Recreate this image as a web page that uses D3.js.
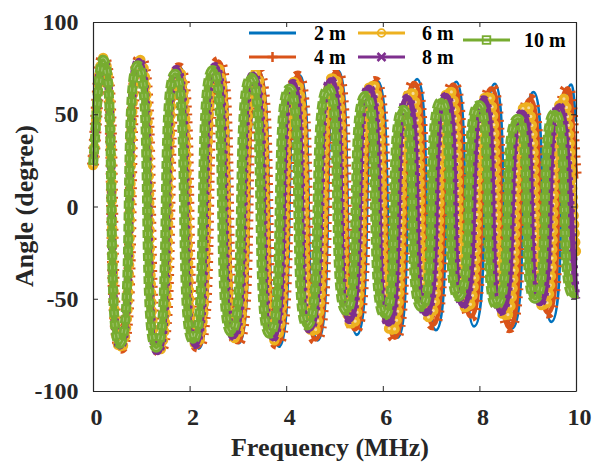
<!DOCTYPE html>
<html><head><meta charset="utf-8">
<script src="https://cdn.jsdelivr.net/npm/d3@7"></script>
<style>html,body{margin:0;padding:0;background:#fff}svg{display:block}</style>
</head><body><svg id="chart" width="597" height="462"></svg>
<script>
// ---- data (start, extrema, end) ----
const freqTicks = [0, 2, 4, 6, 8, 10];
const angleTicks = [-100, -50, 0, 50, 100];
const seriesNames = ["2 m", "4 m", "6 m", "8 m", "10 m"];

const freq2m  = [0, 0.21, 0.58, 0.99, 1.39, 1.80, 2.19, 2.63, 3.02, 3.44, 3.85, 4.28, 4.65, 5.08, 5.46, 5.89, 6.31, 6.71, 7.10, 7.52, 7.89, 8.32, 8.68, 9.12, 9.49, 9.90, 10];
const angle2m = [22.5, 81, -77, 80, -79, 75.5, -77, 78, -74, 73, -76, 71, -72.5, 73.5, -69.5, 68, -71, 69, -67, 67.5, -65, 66.5, -66, 62, -62.5, 66, 46];

const freq4m  = [0, 0.21, 0.58, 0.98, 1.38, 1.78, 2.17, 2.60, 2.99, 3.41, 3.81, 4.24, 4.61, 5.04, 5.42, 5.84, 6.25, 6.65, 7.04, 7.46, 7.82, 8.25, 8.62, 9.05, 9.42, 9.83, 10];
const angle4m = [22.5, 80.5, -76.5, 80, -78.5, 75, -76, 78.5, -73.5, 73, -74.5, 70.5, -72, 73, -66.5, 67.5, -71, 67, -64, 66, -59.5, 64, -65.5, 58, -57.5, 64, 15];

const freq6m  = [0, 0.21, 0.57, 0.97, 1.36, 1.76, 2.14, 2.56, 2.95, 3.36, 3.76, 4.19, 4.55, 4.98, 5.36, 5.78, 6.19, 6.58, 6.96, 7.38, 7.74, 8.17, 8.53, 8.97, 9.33, 9.74, 10];
const angle6m = [22.5, 80.5, -77, 79.5, -78.5, 74.5, -75, 76, -71.5, 72.5, -72.5, 68, -68.5, 70.5, -64.5, 66.5, -68, 62.5, -60, 63, -55.5, 60.5, -60, 55, -54.5, 58.5, -25];

const freq8m  = [0, 0.21, 0.56, 0.95, 1.34, 1.73, 2.11, 2.53, 2.91, 3.32, 3.72, 4.14, 4.48, 4.93, 5.31, 5.71, 6.12, 6.51, 6.89, 7.31, 7.66, 8.09, 8.45, 8.89, 9.25, 9.66, 10];
const angle8m = [22.5, 80, -76, 79, -79, 74.5, -75, 76, -70.5, 71.5, -71.5, 67, -66.5, 68.5, -61.5, 64.5, -63.5, 59, -58, 60, -53.5, 58, -57, 51, -52.5, 54.5, -50];

const freq10m  = [0, 0.21, 0.55, 0.93, 1.31, 1.70, 2.07, 2.48, 2.86, 3.27, 3.66, 4.07, 4.43, 4.87, 5.24, 5.64, 6.04, 6.42, 6.80, 7.21, 7.56, 7.99, 8.35, 8.80, 9.15, 9.56, 9.95, 10];
const angle10m = [22.5, 79.5, -74.5, 76.5, -76.5, 72, -72.5, 74, -68, 70, -69, 64, -64.5, 64, -56.5, 60, -59, 52.5, -54.5, 57, -49, 55, -53.5, 47.5, -50, 50.5, -48, -47];

const seriesFreq  = [freq2m, freq4m, freq6m, freq8m, freq10m];
const seriesAngle = [angle2m, angle4m, angle6m, angle8m, angle10m];

// ---- layout & style ----
const colors = ["#0072BD", "#D95319", "#EDB120", "#7E2F8E", "#77AC30"];
const axisColor = "#262626";
const fontFam = "'Liberation Serif','Times New Roman',serif";

const svg = d3.select("#chart");
const x = d3.scaleLinear().domain([0, 10]).range([93, 576]);
const y = d3.scaleLinear().domain([-100, 100]).range([391, 22]);

// curve through the read extrema: flat tangents at every turning point
const FLAT = 0.78;
function curveFlatTop(context) {
  let pts;
  return {
    areaStart() {}, areaEnd() {},
    lineStart() { pts = []; },
    point(px, py) { pts.push([+px, +py]); },
    lineEnd() {
      const n = pts.length;
      if (!n) return;
      context.moveTo(pts[0][0], pts[0][1]);
      for (let i = 1; i < n; i++) {
        const [x0, y0] = pts[i - 1], [x1, y1] = pts[i], dx = x1 - x0;
        let c1x = x0 + FLAT * dx, c1y = y0, c2x = x1 - FLAT * dx, c2y = y1;
        if (i === 1) { c1x = x0 + dx / 3; c1y = y0 + (y1 - y0) / 3; c2x = x1 - 0.5 * dx; }
        if (i === n - 1) { c2x = x1 - dx / 3; c2y = y1 - (y1 - y0) / 3; c1x = x0 + 0.5 * dx; }
        context.bezierCurveTo(c1x, c1y, c2x, c2y, x1, y1);
      }
    }
  };
}

const lineGen = d3.line().x(d => x(d[0])).y(d => y(d[1])).curve(curveFlatTop);

const layerStyles = [
  [{w: 2.8}],
  [{w: 5}, {w: 12, dash: "2 6"}],
  [{w: 6}, {w: 10.5, dash: "0 9", cap: "round"}, {w: 3.2, dash: "0 9", cap: "round", color: "#f5dc9c"}],
  [{w: 6}, {w: 8.5, dash: "3 5"}],
  [{w: 7}, {w: 10, dash: "8 3.5"}, {w: 4.5, dash: "4 7.5", offset: -2, color: "#a9c97f"}, {w: 3}]
];

const gData = svg.append("g");
seriesNames.forEach((name, i) => {
  const pts = seriesFreq[i].map((f, j) => [f, seriesAngle[i][j]]);
  const d = lineGen(pts);
  layerStyles[i].forEach(st => {
    gData.append("path")
      .attr("d", d)
      .attr("fill", "none")
      .attr("stroke", st.color || colors[i])
      .attr("stroke-width", st.w)
      .attr("stroke-linecap", st.cap || "butt")
      .attr("stroke-linejoin", "round")
      .attr("stroke-dasharray", st.dash || null)
      .attr("stroke-dashoffset", st.offset || 0);
  });
});

// ---- legend (under the axes box) ----
const leg = svg.append("g");
leg.append("rect").attr("x", 243).attr("y", 23).attr("width", 332).attr("height", 47).attr("fill", "#fff");
const legendPos = [
  {lx: 249, ly: 33, tx: 314},
  {lx: 249, ly: 57, tx: 314},
  {lx: 358, ly: 33, tx: 422},
  {lx: 358, ly: 57, tx: 422},
  {lx: 463, ly: 40, tx: 524}
];
seriesNames.forEach((name, i) => {
  const p = legendPos[i];
  const c = colors[i];
  leg.append("line").attr("x1", p.lx).attr("x2", p.lx + 47).attr("y1", p.ly).attr("y2", p.ly)
    .attr("stroke", c).attr("stroke-width", 3);
  const mx = p.lx + 23.5, my = p.ly;
  if (i === 1) {
    leg.append("path").attr("d", `M${mx-5},${my}H${mx+5}M${mx},${my-5}V${my+5}`).attr("stroke", c).attr("stroke-width", 2.5);
  } else if (i === 2) {
    leg.append("circle").attr("cx", mx).attr("cy", my).attr("r", 3.8).attr("fill", "none").attr("stroke", c).attr("stroke-width", 1.8);
  } else if (i === 3) {
    leg.append("path").attr("d", `M${mx-4},${my-4}L${mx+4},${my+4}M${mx-4},${my+4}L${mx+4},${my-4}`).attr("stroke", c).attr("stroke-width", 2.5);
  } else if (i === 4) {
    leg.append("rect").attr("x", mx - 3.8).attr("y", my - 3.8).attr("width", 7.6).attr("height", 7.6).attr("fill", "none").attr("stroke", c).attr("stroke-width", 1.8);
  }
  leg.append("text").attr("x", p.tx).attr("y", p.ly).attr("dy", "0.35em")
    .attr("font-family", fontFam).attr("font-weight", "bold").attr("font-size", 20)
    .attr("fill", "#000").text(name);
});

// ---- axes ----
function styleAxis(g) {
  g.select(".domain").attr("stroke", axisColor).attr("stroke-width", 1.2);
  g.selectAll(".tick line").attr("stroke", axisColor).attr("stroke-width", 1);
  g.selectAll("text").attr("font-family", fontFam).attr("font-weight", "bold").attr("font-size", 24).attr("fill", axisColor);
}
const plainFmt = d => String(d);
const gx = svg.append("g").attr("transform", "translate(0,391)")
  .call(d3.axisBottom(x).tickValues(freqTicks).tickFormat(plainFmt).tickSizeInner(-5).tickSizeOuter(0));
styleAxis(gx);
gx.selectAll("text").attr("y", 33.5).attr("dy", 0).attr("dx", 3);

const gxTop = svg.append("g").attr("transform", "translate(0,22)")
  .call(d3.axisTop(x).tickValues(freqTicks).tickFormat("").tickSizeInner(-5).tickSizeOuter(0));
styleAxis(gxTop);

const gy = svg.append("g").attr("transform", "translate(93,0)")
  .call(d3.axisLeft(y).tickValues(angleTicks).tickFormat(plainFmt).tickSizeInner(-5).tickSizeOuter(0).tickPadding(14.5));
styleAxis(gy);

const gyR = svg.append("g").attr("transform", "translate(576,0)")
  .call(d3.axisRight(y).tickValues(angleTicks).tickFormat("").tickSizeInner(-5).tickSizeOuter(0));
styleAxis(gyR);

// ---- axis titles ----
svg.append("text").attr("x", 330).attr("y", 456).attr("text-anchor", "middle")
  .attr("font-family", fontFam).attr("font-weight", "bold").attr("font-size", 26).attr("fill", axisColor)
  .text("Frequency (MHz)");
svg.append("text").attr("transform", "translate(33,206) rotate(-90)").attr("text-anchor", "middle")
  .attr("font-family", fontFam).attr("font-weight", "bold").attr("font-size", 26).attr("fill", axisColor)
  .text("Angle (degree)");
</script>
</body></html>
